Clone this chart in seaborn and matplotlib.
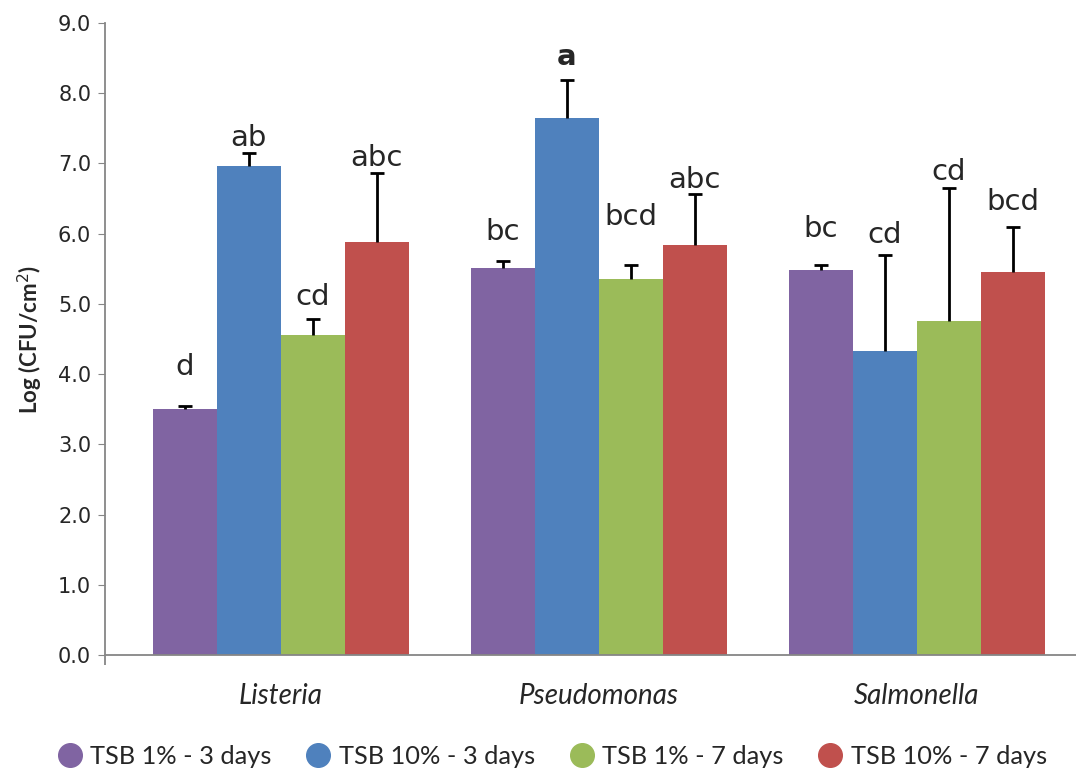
import numpy as np
import pandas as pd
import matplotlib
matplotlib.use("Agg")
import matplotlib.pyplot as plt
from matplotlib.lines import Line2D
import seaborn as sns

# data
bacteria = ["Listeria", "Pseudomonas", "Salmonella"]
treatments = ["TSB 1% - 3 days", "TSB 10% - 3 days", "TSB 1% - 7 days", "TSB 10% - 7 days"]
colors = ["#8064A2", "#4F81BD", "#9BBB59", "#C0504D"]

# mean log counts per treatment (one list per treatment, in bacteria order)
tsb1_3d = [3.51, 5.51, 5.49]
tsb10_3d = [6.97, 7.65, 4.33]
tsb1_7d = [4.56, 5.36, 4.76]
tsb10_7d = [5.88, 5.84, 5.46]

# standard deviations (upper error only)
sd1_3d = [0.04, 0.10, 0.07]
sd10_3d = [0.18, 0.54, 1.37]
sd1_7d = [0.23, 0.20, 1.89]
sd10_7d = [0.99, 0.73, 0.64]

# significance letters and the height they sit at
letters1_3d = ["d", "bc", "bc"]
letters10_3d = ["ab", "a", "cd"]
letters1_7d = ["cd", "bcd", "cd"]
letters10_7d = ["abc", "abc", "bcd"]
letter_y = [[3.99, 5.91, 5.95], [7.25, 8.40, 5.87], [4.99, 6.13, 6.77], [6.97, 6.65, 6.34]]

means = [tsb1_3d, tsb10_3d, tsb1_7d, tsb10_7d]
sds = [sd1_3d, sd10_3d, sd1_7d, sd10_7d]
letters = [letters1_3d, letters10_3d, letters1_7d, letters10_7d]

rows = []
for t, vals in zip(treatments, means):
    for b, v in zip(bacteria, vals):
        rows.append({"Bacteria": b, "Treatment": t, "Log": v})
df = pd.DataFrame(rows)

sns.set_style("white")
fig = plt.figure(figsize=(10.76, 7.68), dpi=100)
ax = fig.add_axes([0.0976, 0.147, 0.905, 0.823])

sns.barplot(data=df, x="Bacteria", y="Log", hue="Treatment", order=bacteria,
            hue_order=treatments, palette=colors, width=0.805, saturation=1,
            errorbar=None, legend=False, ax=ax, linewidth=0)

# error bars (upper only) + letters, using bar positions from seaborn's containers
bar_conts = list(ax.containers)
for i, cont in enumerate(bar_conts):
    xs = [p.get_x() + p.get_width() / 2 for p in cont.patches]
    eb = ax.errorbar(xs, means[i], yerr=[np.zeros(3), sds[i]], fmt="none",
                     ecolor="black", elinewidth=2, capsize=5, capthick=2, zorder=3)
    # hide the lower caps sitting on the bar tops
    eb[1][0].set_visible(False)
    for j, x in enumerate(xs):
        bold = letters[i][j] == "a"
        ax.text(x, letter_y[i][j], letters[i][j], ha="center", va="baseline",
                fontsize=21, fontweight="bold" if bold else "normal",
                family="DejaVu Sans")

ax.set_ylim(0, 9)
ax.set_xlim(-0.552, 2.51)
ax.set_yticks(np.arange(0, 9.1, 1.0))
ax.set_yticklabels([f"{v:.1f}" for v in np.arange(0, 9.1, 1.0)], fontsize=15)
ax.set_xticks(range(3))
ax.set_xticklabels(bacteria, fontsize=20, style="italic", family="Lato")
ax.set_xticks([-0.552], minor=True)
ax.tick_params(axis="x", which="major", length=0, pad=20)
ax.tick_params(axis="x", which="minor", length=7, width=1.3, color="#868686",
               direction="out", bottom=True)
ax.tick_params(axis="y", length=5, color="#868686", direction="out", left=True, pad=5)
ax.set_xlabel("")
ax.set_ylabel("Log (CFU/cm$^{2}$)", fontsize=16, fontweight="bold", family="Lato", labelpad=9)

for side in ["top", "right"]:
    ax.spines[side].set_visible(False)
for side in ["left", "bottom"]:
    ax.spines[side].set_color("#868686")
    ax.spines[side].set_linewidth(1.3)

handles = [Line2D([0], [0], marker="o", linestyle="", markersize=17,
                  markerfacecolor=c, markeredgecolor=c) for c in colors]
fig.legend(handles, treatments, loc="lower left", bbox_to_anchor=(53 / 1076, 0.0),
           ncol=4, frameon=False, handlelength=1.3, handletextpad=0.15,
           columnspacing=1.2, borderpad=0.0, borderaxespad=0.0,
           prop={"family": "Lato", "size": 18.3})

fig.savefig("out.png", dpi=100)
